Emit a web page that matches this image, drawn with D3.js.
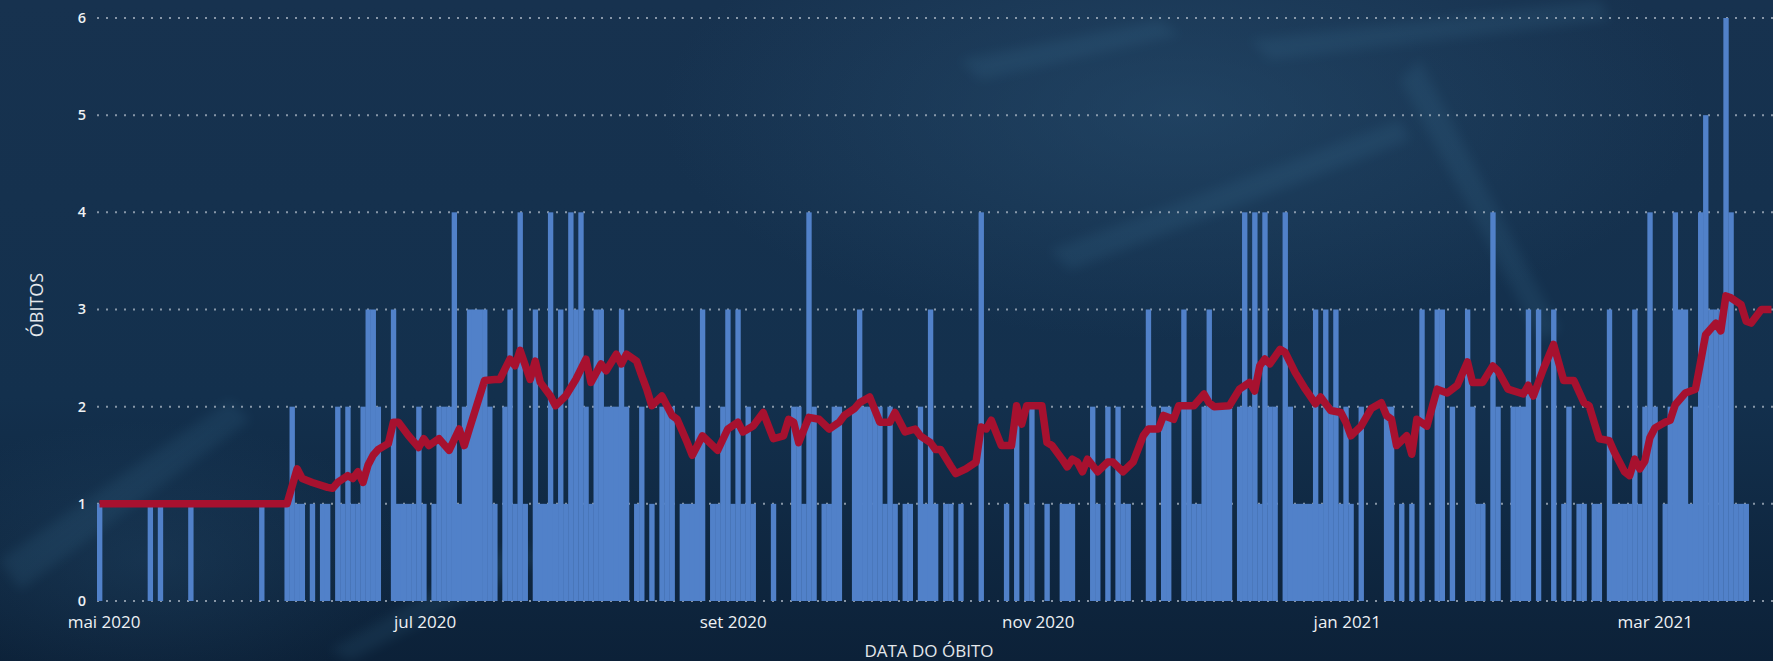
<!DOCTYPE html>
<html><head><meta charset="utf-8">
<script src="https://cdn.jsdelivr.net/npm/d3@7"></script>
<style>
html,body{margin:0;padding:0;background:#0e2640;overflow:hidden}
svg{display:block}
</style>
</head><body>
<svg id="chart" width="1773" height="661"></svg>
<script>
// ---------- DATA ----------
const startDate = "2020-05-01";   // first day of the daily series
const lastAxisDate = "2021-03-27"; // right end of the visible axis
// deaths per day, one value per day starting at startDate
const deaths = [
  1,0,0,0,0,0,0,0,0,0, 1,0,1,0,0,0,0,0,1,0, 0,0,0,0,0,0,0,0,0,0, 0,0,1,0,0,0,0,
  1,2,1,1,0,1,0,1,1,0,2,1,2,1,1,2,
  3,3,2,0,0,3,1,1,1,1,2,1,0,1,2,2,2,4,1,2,3,3,3,3,2,1,0,2,3,
  1,4,1,0,3,1,1,4,1,3,1,4,3,4,2,1,3,3,2,2,2,3,2,0,1,2,0,1,
  0,2,2,2,0,1,1,1,2,3,0,1,1,2,3,1,3,1,2,1,0,0,0,1,0,0,0,2,
  2,1,4,2,0,1,1,2,2,0,0,2,3,2,2,2,2,1,2,1,0,1,1,0,2,1,3,1,
  0,1,1,0,1,0,0,0,4,0,0,0,0,1,0,2,0,1,2,0,0,1,0,0,1,1,1,
  0,0,0,2,1,0,2,0,2,1,1,0,0,0,3,2,0,2,2,0,0,3,2,1,1,2,3,2,
  2,2,2,0,2,4,2,4,1,4,2,2,0,4,2,1,1,1,1,3,1,3,2,3,1,2,1,0,
  2,0,0,0,0,2,2,0,1,0,1,0,3,0,0,3,3,0,2,0,0,3,2,1,1,0,4,
  2,0,0,2,2,2,3,0,3,0,0,3,0,1,2,0,1,1,0,1,1,0,3,1,1,1,1,
  3,1,2,4,2,0,1,2,4,3,3,1,2,4,5,3,3,3,6,4,1,1,1
];
// moving average line: day offset from startDate and value
const avgDay = [0,37,39,40,42,45,46,47,49,50,51,52,53,54,55,57,58,59,61,63,64,65,67,69,71,72,73,76,78,79,81,82,83,85,86,87,89,90,92,94,96,97,99,100,102,103,104,106,107,108,109,111,113,114,116,117,119,122,124,126,127,129,131,133,135,136,137,138,140,142,144,146,147,149,150,152,154,156,157,159,161,162,164,165,166,168,169,171,173,174,175,176,178,180,181,182,183,186,187,188,190,191,192,193,194,195,197,199,200,202,204,206,207,209,210,212,213,216,218,219,220,223,225,227,228,229,230,231,233,234,236,238,240,241,243,245,246,247,249,251,253,254,255,256,258,259,260,262,264,266,268,270,271,273,275,276,278,281,282,283,285,287,289,291,293,294,296,298,299,301,302,303,304,305,306,307,309,310,311,313,315,316,317,319,320,321,322,324,325,326,328,330];
const avgValue = [1,1,1.36,1.26,1.22,1.17,1.16,1.22,1.29,1.26,1.33,1.22,1.4,1.5,1.56,1.62,1.84,1.84,1.7,1.58,1.67,1.6,1.67,1.55,1.77,1.6,1.77,2.27,2.28,2.28,2.49,2.42,2.58,2.28,2.47,2.25,2.11,2.01,2.11,2.28,2.49,2.25,2.44,2.37,2.54,2.44,2.54,2.47,2.32,2.18,2.01,2.11,1.91,1.87,1.63,1.5,1.7,1.55,1.77,1.84,1.74,1.8,1.94,1.67,1.7,1.87,1.84,1.63,1.89,1.87,1.77,1.84,1.91,1.98,2.04,2.1,1.84,1.84,1.94,1.74,1.77,1.7,1.63,1.56,1.56,1.39,1.31,1.36,1.43,1.79,1.77,1.86,1.6,1.6,2.01,1.82,2.01,2.01,1.63,1.6,1.46,1.38,1.46,1.43,1.33,1.46,1.33,1.43,1.43,1.33,1.43,1.7,1.77,1.77,1.91,1.87,2.01,2.01,2.13,2.04,2.0,2.01,2.18,2.25,2.16,2.42,2.49,2.44,2.59,2.56,2.35,2.18,2.03,2.1,1.96,1.94,1.84,1.7,1.8,1.98,2.04,1.91,1.87,1.6,1.7,1.51,1.87,1.8,2.18,2.14,2.22,2.46,2.25,2.25,2.42,2.37,2.18,2.13,2.22,2.11,2.39,2.64,2.27,2.27,2.04,2.01,1.67,1.65,1.53,1.33,1.29,1.46,1.36,1.44,1.68,1.78,1.84,1.86,2.02,2.14,2.18,2.46,2.74,2.86,2.78,3.14,3.12,3.05,2.88,2.86,3.0,3.0];
const yTicks = [0,1,2,3,4,5,6];
const xTickDates = ["2020-05-01","2020-07-01","2020-09-01","2020-11-01","2021-01-01","2021-03-01"];
const xTickLabels = ["mai 2020","jul 2020","set 2020","nov 2020","jan 2021","mar 2021"];
const yTitle = "ÓBITOS";
const xTitle = "DATA DO ÓBITO";

// ---------- LAYOUT ----------
const W = 1773, H = 661;
const plot = {left: 97, right: 1773, top: 18, bottom: 601};
const labelShift = [4, 16, 10, 6, 6, 15]; // horizontal nudges of month labels, as placed in the reference
const FONT = "'Open Sans', 'DejaVu Sans', sans-serif";
const DAY = 864e5;
const t0 = new Date(startDate + "T00:00:00Z");
const dayDate = d => new Date(t0.getTime() + d * DAY);

const svg = d3.select("#chart");
const defs = svg.append("defs");
const bg = defs.append("linearGradient").attr("id","bg").attr("x1","0").attr("y1","0").attr("x2","0").attr("y2","1");
bg.append("stop").attr("offset","0").attr("stop-color","#17324f");
bg.append("stop").attr("offset","0.6").attr("stop-color","#13304d");
bg.append("stop").attr("offset","1").attr("stop-color","#0c2138");
const glow = defs.append("radialGradient").attr("id","glow").attr("cx","0.5").attr("cy","0.5").attr("r","0.5");
glow.append("stop").attr("offset","0").attr("stop-color","#2a5274").attr("stop-opacity",0.5);
glow.append("stop").attr("offset","1").attr("stop-color","#2a5274").attr("stop-opacity",0);
defs.append("filter").attr("id","blur").append("feGaussianBlur").attr("stdDeviation",6);

svg.append("rect").attr("width",W).attr("height",H).attr("fill","url(#bg)");
svg.append("ellipse").attr("cx",1180).attr("cy",110).attr("rx",520).attr("ry",230).attr("fill","url(#glow)");
svg.append("ellipse").attr("cx",150).attr("cy",560).attr("rx",260).attr("ry",140).attr("fill","url(#glow)").attr("opacity",0.6);

// soft background streaks (texture)
const streaks = svg.append("g").attr("filter","url(#blur)").attr("fill","#4f8fb3").attr("opacity",0.12);
[
  [[960,60],[1160,20],[1180,35],[980,80]],
  [[1050,250],[1400,120],[1410,140],[1070,270]],
  [[1250,40],[1600,0],[1610,20],[1270,60]],
  [[0,560],[230,400],[250,420],[20,590]],
  [[330,650],[520,540],[540,560],[350,661]],
  [[1420,60],[1560,330],[1540,340],[1400,80]]
].forEach(p => streaks.append("polygon").attr("points", p.map(q=>q.join(",")).join(" ")));

const x = d3.scaleUtc()
  .domain([new Date(t0.getTime() - 0.5*DAY), new Date(new Date(lastAxisDate+"T00:00:00Z").getTime() + 0.3*DAY)])
  .range([plot.left, plot.right]);
const y = d3.scaleLinear().domain([0,6]).range([plot.bottom, plot.top]);

// gridlines
svg.append("g").selectAll("line").data(yTicks).join("line")
  .attr("x1", plot.left).attr("x2", plot.right)
  .attr("y1", d => y(d)).attr("y2", d => y(d))
  .attr("stroke", "#b9c3cf").attr("stroke-width", 2)
  .attr("stroke-dasharray", "2,7").attr("opacity", 0.7);

// bars
const dayW = x(dayDate(1)) - x(dayDate(0));
svg.append("g").selectAll("rect")
  .data(deaths.map((v,i)=>({i,v})).filter(d=>d.v>0))
  .join("rect")
  .attr("x", d => x(dayDate(d.i)) - dayW/2)
  .attr("width", dayW + 0.3)
  .attr("y", d => y(d.v))
  .attr("height", d => y(0) - y(d.v))
  .attr("fill", "#5181c9");

// moving-average line
const line = d3.line().x(d => x(dayDate(d[0]))).y(d => y(d[1]));
svg.append("path")
  .datum(avgDay.map((d,i)=>[d, avgValue[i]]))
  .attr("d", line)
  .attr("fill","none").attr("stroke","#a7112f").attr("stroke-width",7.5)
  .attr("stroke-linejoin","round").attr("stroke-linecap","butt");

// y axis labels
const yAxis = d3.axisLeft(y).tickValues(yTicks).tickSize(0).tickPadding(0).tickFormat(d3.format("d"));
const gy = svg.append("g").attr("transform", `translate(${plot.left-11},0)`).call(yAxis);
gy.select(".domain").remove();
gy.selectAll("text").attr("fill","#eef1f4").attr("dy","0.3em").style("font-family",FONT).style("font-size","14.5px").style("font-weight","600");

// x axis labels
const xAxis = d3.axisBottom(x).tickValues(xTickDates.map(s=>new Date(s+"T00:00:00Z")))
  .tickSize(0).tickPadding(0).tickFormat((d,i)=>xTickLabels[i]);
const gx = svg.append("g").attr("transform", `translate(0,${plot.bottom+15})`).call(xAxis);
gx.select(".domain").remove();
gx.selectAll("text").attr("fill","#eef1f4").style("font-family",FONT).style("font-size","17px")
  .attr("dx", (d,i) => labelShift[i]);

// titles
svg.append("text").attr("x", 929).attr("y", 657).attr("text-anchor","middle")
  .attr("fill","#e4e8ec").style("font-family",FONT).style("font-size","17px")
  .text(xTitle);
svg.append("text").attr("transform","translate(43,305) rotate(-90)").attr("text-anchor","middle")
  .attr("fill","#e4e8ec").style("font-family",FONT).style("font-size","18px")
  .text(yTitle);
</script>
</body></html>
